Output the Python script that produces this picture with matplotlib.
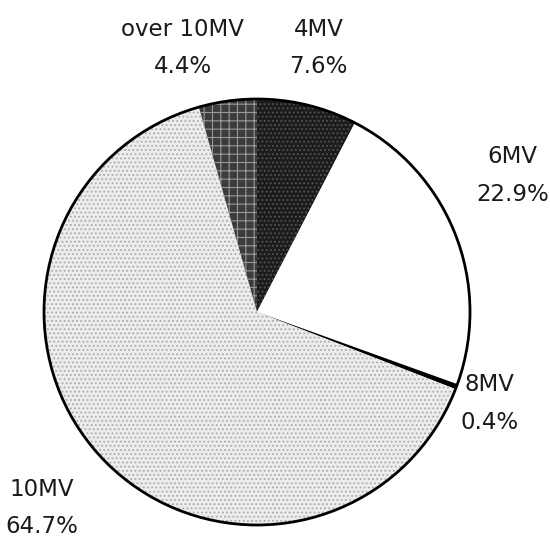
import matplotlib
matplotlib.use("Agg")
import matplotlib.pyplot as plt
from matplotlib.patches import Circle

plt.rcParams['font.family'] = ['DejaVu Sans']
plt.rcParams['hatch.linewidth'] = 0.8

# beam energy share, clockwise from 12 o'clock
energies = ["4MV", "6MV", "8MV", "10MV", "over 10MV"]
shares = [7.6, 22.9, 0.4, 64.7, 4.4]

# fill, hatch pattern, hatch colour per wedge
fills = ["#1c1c1c", "#ffffff", "#000000", "#ececec", "#3c3c3c"]
hatches = ["....", "", "", "....", "++"]
hatch_colors = ["#555555", "#ffffff", "#000000", "#aaaaaa", "#9a9a9a"]

# label centres in pie-radius units
label_xy = [(0.29, 1.24), (1.20, 0.64), (1.09, -0.43), (-1.01, -0.92), (-0.35, 1.24)]

fig = plt.figure(figsize=(5.5, 5.45), dpi=100)
ax = fig.add_axes([0, 0, 1, 1])

wedges, _ = ax.pie(shares, startangle=90, counterclock=False, colors=fills,
                   radius=1.0, wedgeprops=dict(linewidth=0))
for w, h, hc in zip(wedges, hatches, hatch_colors):
    w.set_edgecolor(hc)
    w.set_linewidth(0)
    if h:
        w.set_hatch(h)

ax.add_patch(Circle((0, 0), 1.0, fill=False, edgecolor="black", linewidth=2))

for name, pct, (x, y) in zip(energies, shares, label_xy):
    ax.text(x, y, f"{name}\n{pct:.1f}%", ha="center", va="center",
            fontsize=16.5, linespacing=1.8, color="#1a1a1a")

ax.set_xlim(-257 / 213, 293 / 213)
ax.set_ylim(-233 / 213, 312 / 213)
ax.set_aspect("equal")
ax.axis("off")

fig.savefig("out.png", dpi=100, facecolor="white")
